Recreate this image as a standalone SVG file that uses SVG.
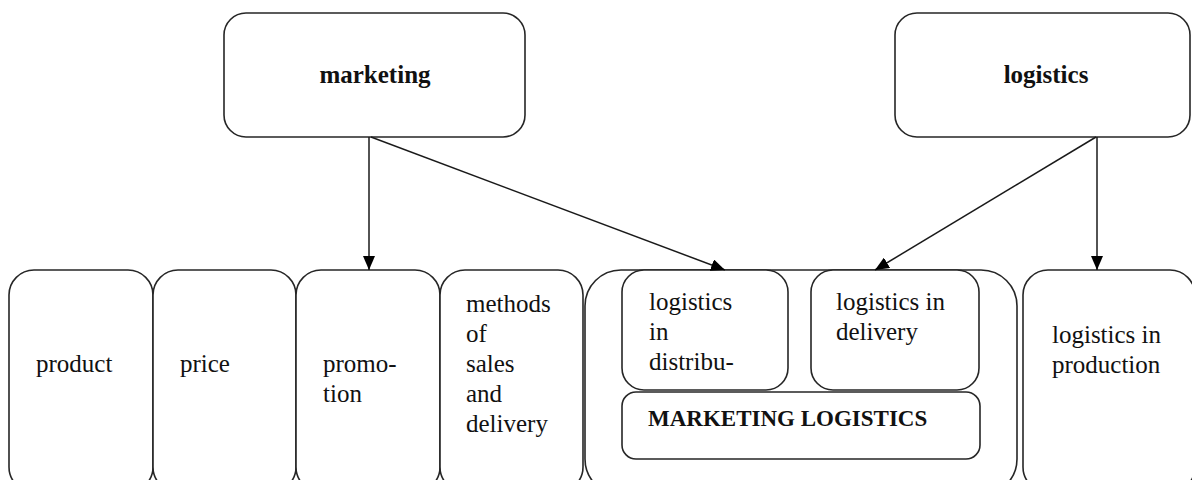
<svg xmlns="http://www.w3.org/2000/svg" width="1192" height="480" viewBox="0 0 1192 480">
<style>
.box{fill:#fff;stroke:#262626;stroke-width:1.6}
.t{font-family:"Liberation Serif","Times New Roman",serif;font-size:25px;fill:#111}
.b{font-family:"Liberation Serif","Times New Roman",serif;font-weight:bold;fill:#111}
.c{stroke:#1a1a1a;stroke-width:1.5;fill:none}
</style>
<defs>
<marker id="ah" viewBox="0 0 14 12" refX="14" refY="6" markerWidth="14" markerHeight="12" markerUnits="userSpaceOnUse" orient="auto">
<path d="M0,0 L14,6 L0,12 Z" fill="#000"/>
</marker>
</defs>
<rect width="1192" height="480" fill="#fff"/>
<g id="marketing">
<rect class="box" x="224" y="13" width="301" height="124" rx="22"/>
<text class="b" x="375" y="83" font-size="25" text-anchor="middle">marketing</text>
</g>
<g id="logistics">
<rect class="box" x="895" y="13" width="295" height="124" rx="22"/>
<text class="b" x="1046" y="83" font-size="25" text-anchor="middle">logistics</text>
</g>
<g id="product">
<rect class="box" x="9" y="270" width="144" height="222" rx="25"/>
<text class="t" x="36" y="372">product</text>
</g>
<g id="price">
<rect class="box" x="153" y="270" width="143" height="222" rx="25"/>
<text class="t" x="180" y="372">price</text>
</g>
<g id="promotion">
<rect class="box" x="296" y="270" width="144" height="222" rx="25"/>
<text class="t" x="323" y="372">promo-</text>
<text class="t" x="323" y="402">tion</text>
</g>
<g id="methods">
<rect class="box" x="440" y="270" width="143" height="222" rx="25"/>
<text class="t" x="466" y="312">methods</text>
<text class="t" x="466" y="342">of</text>
<text class="t" x="466" y="372">sales</text>
<text class="t" x="466" y="402">and</text>
<text class="t" x="466" y="432">delivery</text>
</g>
<g id="marketing-logistics-group">
<rect class="box" x="585" y="270" width="432" height="225" rx="36"/>
</g>
<g id="logistics-distribution">
<rect class="box" x="622" y="270" width="166" height="120" rx="22"/>
<text class="t" x="649" y="310">logistics</text>
<text class="t" x="649" y="340">in</text>
<text class="t" x="649" y="370">distribu-</text>
</g>
<g id="logistics-delivery">
<rect class="box" x="811" y="270" width="168" height="120" rx="22"/>
<text class="t" x="836" y="310">logistics in</text>
<text class="t" x="836" y="340">delivery</text>
</g>
<g id="marketing-logistics">
<rect class="box" x="622" y="392" width="358" height="67" rx="14"/>
<text class="b" x="648" y="426" font-size="23">MARKETING LOGISTICS</text>
</g>
<g id="logistics-production">
<rect class="box" x="1023" y="270" width="172" height="222" rx="25"/>
<text class="t" x="1052" y="343">logistics in</text>
<text class="t" x="1052" y="373">production</text>
</g>
<g id="connectors">
<line class="c" x1="369" y1="137" x2="369" y2="270" marker-end="url(#ah)"/>
<line class="c" x1="371" y1="137" x2="725" y2="270" marker-end="url(#ah)"/>
<line class="c" x1="1096" y1="137" x2="875" y2="270" marker-end="url(#ah)"/>
<line class="c" x1="1097" y1="137" x2="1097" y2="270" marker-end="url(#ah)"/>
</g>
</svg>
